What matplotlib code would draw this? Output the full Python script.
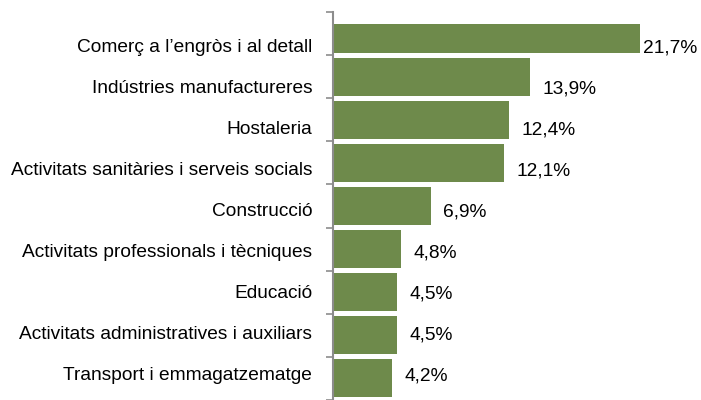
import matplotlib.pyplot as plt
from matplotlib.patches import Rectangle
import numpy as np

plt.rcParams['font.family'] = ['Liberation Sans', 'DejaVu Sans']

# sectors and share of total (%)
sectors = [
    "Comerç a l’engròs i al detall",
    "Indústries manufactureres",
    "Hostaleria",
    "Activitats sanitàries i serveis socials",
    "Construcció",
    "Activitats professionals i tècniques",
    "Educació",
    "Activitats administratives i auxiliars",
    "Transport i emmagatzematge",
]
shares = [21.7, 13.9, 12.4, 12.1, 6.9, 4.8, 4.5, 4.5, 4.2]
share_labels = ["21,7%", "13,9%", "12,4%", "12,1%", "6,9%", "4,8%", "4,5%", "4,5%", "4,2%"]

bar_color = "#6E8A4B"
axis_gray = "#8C8C8C"
fs = 13.8

fig = plt.figure(figsize=(7.01, 4.0), dpi=100)
ax = fig.add_axes([333 / 701, 0.0, 1 - 333 / 701, 1 - 12 / 400])

pos = np.arange(len(sectors))
bars = ax.barh(pos, shares, height=0.88, color=bar_color)

# the top bar is cut a little short in the original chart
bars[0].set_clip_path(Rectangle((0, -0.22), 40, 2, transform=ax.transData))

ax.set_xlim(0, 26)
ax.set_ylim(8.32, -0.5)

# text baselines are spaced slightly tighter than the bars in the original
text_pos = 0.43 + pos * 0.952

ax.set_yticks(text_pos)
ax.set_yticklabels(sectors, fontsize=fs)
for t in ax.get_yticklabels():
    t.set_va('baseline')
ax.tick_params(axis='y', which='major', length=0, pad=15)
ax.set_yticks(np.arange(len(sectors) + 1) - 0.5, minor=True)
ax.tick_params(axis='y', which='minor', length=5, width=1.2, color=axis_gray, direction='out')

ax.set_xticks([])
for side in ['top', 'right', 'bottom']:
    ax.spines[side].set_visible(False)
ax.spines['left'].set_color(axis_gray)
ax.spines['left'].set_linewidth(1.5)

for i, (v, lab) in enumerate(zip(shares, share_labels)):
    dx = 2 if v == max(shares) else 9
    ax.annotate(lab, xy=(v, text_pos[i]), xytext=(dx, 0), textcoords='offset points',
                va='baseline', ha='left', fontsize=fs, annotation_clip=False)

fig.savefig("out.png", dpi=100)
